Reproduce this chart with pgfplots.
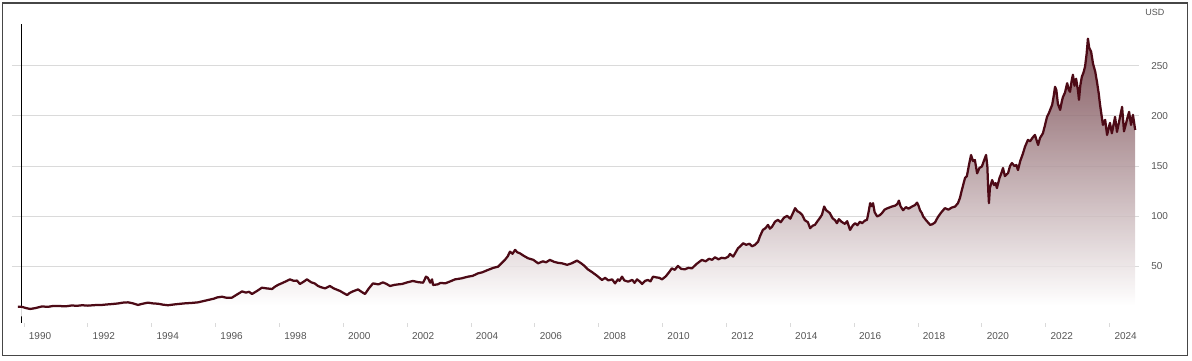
\documentclass[border=0pt]{standalone}
\usepackage{pgfplots}
\usepackage{pgfplotstable}
\pgfplotsset{compat=1.18}
\usepackage{fontspec}
\setmainfont{Liberation Sans}
\definecolor{lineC}{RGB}{77,10,22}
\definecolor{fillTop}{RGB}{109,59,67}
\definecolor{gridC}{RGB}{218,218,218}
\definecolor{labelC}{RGB}{85,85,85}
\definecolor{frameC}{RGB}{70,70,70}
\pgfdeclareverticalshading{myfade}{100bp}{color(0bp)=(white); color(27bp)=(white); color(75bp)=(fillTop); color(100bp)=(fillTop)}
\pgfplotstableread{
year value
1989.81 9.8
1989.95 9.5
1990.05 8.5
1990.19 7.5
1990.35 8.3
1990.56 10.0
1990.75 9.6
1990.90 10.4
1991.06 10.5
1991.30 10.1
1991.50 11.0
1991.65 10.6
1991.82 11.2
1992.00 10.8
1992.20 11.3
1992.44 11.5
1992.60 12.0
1992.76 12.4
1992.95 13.0
1993.10 13.8
1993.26 14.1
1993.40 13.2
1993.57 11.5
1993.70 12.6
1993.88 13.8
1994.05 13.0
1994.20 12.7
1994.35 11.8
1994.51 11.2
1994.70 12.0
1994.85 12.5
1995.04 13.1
1995.25 13.5
1995.45 14.1
1995.60 15.2
1995.76 16.4
1995.95 17.8
1996.05 19.0
1996.20 19.7
1996.35 18.6
1996.51 18.7
1996.65 21.5
1996.83 25.0
1996.95 23.8
1997.05 24.6
1997.14 22.4
1997.30 25.5
1997.45 28.7
1997.60 28.0
1997.77 27.4
1997.85 29.5
1997.95 31.4
1998.10 33.5
1998.20 35.0
1998.33 37.0
1998.45 35.5
1998.55 35.8
1998.64 32.4
1998.75 34.5
1998.86 37.0
1999.00 34.0
1999.10 33.0
1999.21 30.4
1999.30 29.2
1999.43 28.0
1999.58 30.4
1999.70 28.0
1999.90 25.4
2000.00 23.5
2000.12 21.4
2000.20 23.5
2000.30 25.0
2000.46 27.0
2000.55 25.0
2000.68 22.4
2000.80 28.0
2000.93 33.0
2001.10 32.0
2001.24 34.0
2001.35 32.5
2001.46 30.4
2001.60 31.5
2001.72 32.0
2001.84 32.4
2002.00 34.0
2002.18 35.4
2002.35 34.2
2002.50 33.7
2002.59 39.7
2002.65 38.5
2002.72 33.7
2002.78 37.0
2002.81 31.4
2002.95 32.0
2003.05 33.5
2003.19 33.0
2003.35 35.0
2003.50 37.0
2003.70 38.0
2003.91 39.7
2004.05 40.5
2004.22 43.0
2004.35 44.0
2004.53 46.4
2004.70 48.5
2004.85 49.7
2004.95 53.0
2005.06 56.4
2005.15 60.0
2005.22 64.6
2005.30 62.5
2005.38 66.4
2005.45 64.0
2005.53 63.0
2005.65 60.5
2005.79 58.0
2005.95 56.5
2006.10 53.0
2006.25 55.0
2006.35 54.0
2006.47 56.4
2006.60 54.5
2006.72 53.5
2006.85 53.0
2007.01 51.5
2007.15 53.0
2007.32 55.7
2007.45 53.0
2007.55 50.5
2007.66 47.0
2007.80 44.0
2007.95 40.5
2008.10 36.4
2008.20 38.5
2008.30 36.0
2008.42 37.0
2008.51 33.0
2008.60 37.0
2008.65 35.5
2008.73 39.7
2008.80 36.0
2008.92 34.7
2009.05 36.5
2009.12 33.5
2009.20 37.0
2009.28 35.0
2009.36 32.4
2009.45 35.5
2009.54 36.4
2009.62 35.0
2009.70 39.7
2009.80 39.0
2009.90 38.5
2009.98 37.0
2010.10 40.0
2010.20 44.0
2010.29 48.0
2010.38 46.5
2010.48 50.4
2010.58 47.5
2010.70 47.0
2010.80 48.5
2010.92 48.0
2011.05 52.0
2011.15 54.5
2011.23 56.4
2011.35 55.0
2011.45 57.5
2011.55 56.5
2011.64 59.0
2011.75 57.0
2011.85 58.5
2011.95 58.0
2012.05 59.5
2012.11 62.3
2012.21 59.7
2012.28 63.5
2012.36 68.0
2012.45 70.5
2012.52 73.0
2012.62 71.5
2012.72 72.5
2012.80 70.0
2012.89 71.3
2012.99 74.6
2013.05 80.0
2013.14 86.3
2013.22 88.0
2013.30 91.3
2013.36 87.5
2013.43 89.6
2013.52 94.5
2013.61 96.3
2013.70 94.0
2013.80 98.5
2013.90 100.3
2014.00 97.5
2014.08 103.0
2014.15 108.0
2014.22 105.0
2014.30 103.5
2014.37 101.4
2014.45 96.0
2014.55 94.0
2014.62 88.0
2014.70 90.5
2014.77 91.3
2014.85 95.0
2014.92 98.0
2014.99 101.4
2015.06 109.6
2015.12 106.0
2015.24 103.0
2015.32 98.0
2015.40 96.0
2015.46 93.0
2015.52 97.0
2015.60 94.5
2015.71 92.3
2015.78 95.0
2015.87 86.3
2015.95 90.5
2016.03 93.0
2016.10 91.0
2016.18 94.5
2016.25 93.0
2016.33 95.5
2016.40 96.3
2016.45 104.0
2016.50 113.0
2016.55 110.0
2016.59 113.0
2016.64 104.0
2016.72 99.7
2016.80 101.0
2016.87 103.0
2016.95 106.5
2017.05 108.0
2017.18 109.6
2017.28 110.5
2017.35 112.0
2017.40 115.5
2017.45 110.0
2017.53 106.0
2017.62 109.0
2017.70 107.5
2017.81 109.6
2017.90 111.0
2017.97 113.5
2018.02 110.0
2018.06 106.0
2018.12 103.0
2018.16 99.7
2018.25 96.0
2018.38 91.3
2018.45 92.0
2018.53 93.7
2018.62 99.0
2018.72 103.5
2018.84 108.0
2018.95 106.5
2019.05 108.5
2019.16 109.6
2019.25 113.0
2019.31 118.0
2019.38 127.0
2019.47 138.0
2019.53 140.0
2019.60 152.0
2019.66 161.0
2019.72 155.0
2019.78 156.0
2019.85 142.7
2019.92 148.0
2020.00 149.6
2020.06 155.0
2020.13 161.0
2020.17 150.0
2020.20 125.0
2020.22 113.0
2020.25 128.0
2020.32 136.0
2020.38 131.0
2020.43 133.0
2020.47 128.0
2020.55 138.0
2020.60 142.0
2020.66 148.0
2020.72 140.0
2020.82 143.0
2020.88 150.0
2020.94 153.0
2021.02 150.0
2021.08 151.0
2021.13 146.0
2021.20 155.0
2021.28 162.0
2021.35 169.3
2021.44 176.0
2021.51 174.7
2021.58 178.0
2021.66 181.0
2021.72 175.0
2021.76 171.0
2021.82 178.0
2021.91 182.6
2021.97 190.0
2022.04 199.2
2022.10 203.0
2022.15 207.0
2022.20 211.0
2022.25 220.0
2022.29 229.0
2022.33 226.0
2022.38 212.0
2022.45 206.0
2022.50 214.0
2022.54 219.0
2022.60 223.0
2022.67 232.6
2022.72 226.0
2022.76 224.0
2022.81 235.0
2022.85 241.0
2022.90 230.0
2022.95 237.0
2022.98 231.0
2023.01 225.0
2023.04 216.0
2023.08 230.0
2023.13 239.0
2023.18 243.0
2023.23 249.0
2023.28 262.0
2023.32 277.0
2023.36 268.0
2023.42 264.0
2023.48 252.0
2023.55 244.0
2023.61 232.6
2023.66 222.0
2023.70 211.0
2023.75 200.0
2023.79 191.0
2023.86 196.0
2023.92 181.0
2024.01 193.0
2024.07 182.6
2024.17 199.0
2024.23 184.0
2024.32 198.0
2024.39 209.0
2024.45 184.6
2024.54 196.0
2024.61 204.0
2024.67 191.0
2024.73 201.0
2024.80 186.0
}\pricedata
\begin{document}
\begin{tikzpicture}
\useasboundingbox (0pt,0pt) rectangle (715.2pt,216.6pt);
\draw[frameC, line width=0.7pt] (1.5pt,214.8pt) rectangle (712.5pt,3.3pt);
\begin{axis}[
  at={(7.2pt,22.8pt)}, anchor=south west,
  scale only axis, width=676.2pt, height=179.4pt,
  xmin=1989.624, xmax=2024.92, ymin=-6.5, ymax=291.6,
  axis line style={draw=none},
  xtick={1990,1992,...,2024},
  xtick pos=bottom,
  ytick={50,100,150,200,250},
  ytick pos=right, yticklabel pos=right,
  ymajorgrids, major grid style={gridC, line width=0.6pt},
  tick align=outside, major tick length=2.4pt,
  xtick style={gridC, line width=0.6pt},
  ytick style={draw=none},
  /pgf/number format/.cd, 1000 sep={}, assume math mode=true, /pgfplots/.cd,
  xticklabel style={font=\fontsize{6}{7}\selectfont, text=labelC, xshift=9.6pt},
  yticklabel style={font=\fontsize{6}{7}\selectfont, text=labelC, anchor=west, inner sep=0pt, xshift=4.8pt},
  extra x ticks={1989.906}, extra x tick labels={},
  extra x tick style={grid=major, major grid style={black, line width=0.6pt}, tick style={draw=none}},
  clip=true,
]
\addplot[draw=none, shade, shading=myfade, fill opacity=0.85] table[x=year,y=value] {\pricedata} \closedcycle;
\addplot[lineC, line width=1.35pt, line join=round] table[x=year,y=value] {\pricedata};
\end{axis}
\node[anchor=west, inner sep=0pt, font=\fontsize{5.4}{6}\selectfont, text=labelC] at (687pt,209pt) {USD};
\end{tikzpicture}
\end{document}
